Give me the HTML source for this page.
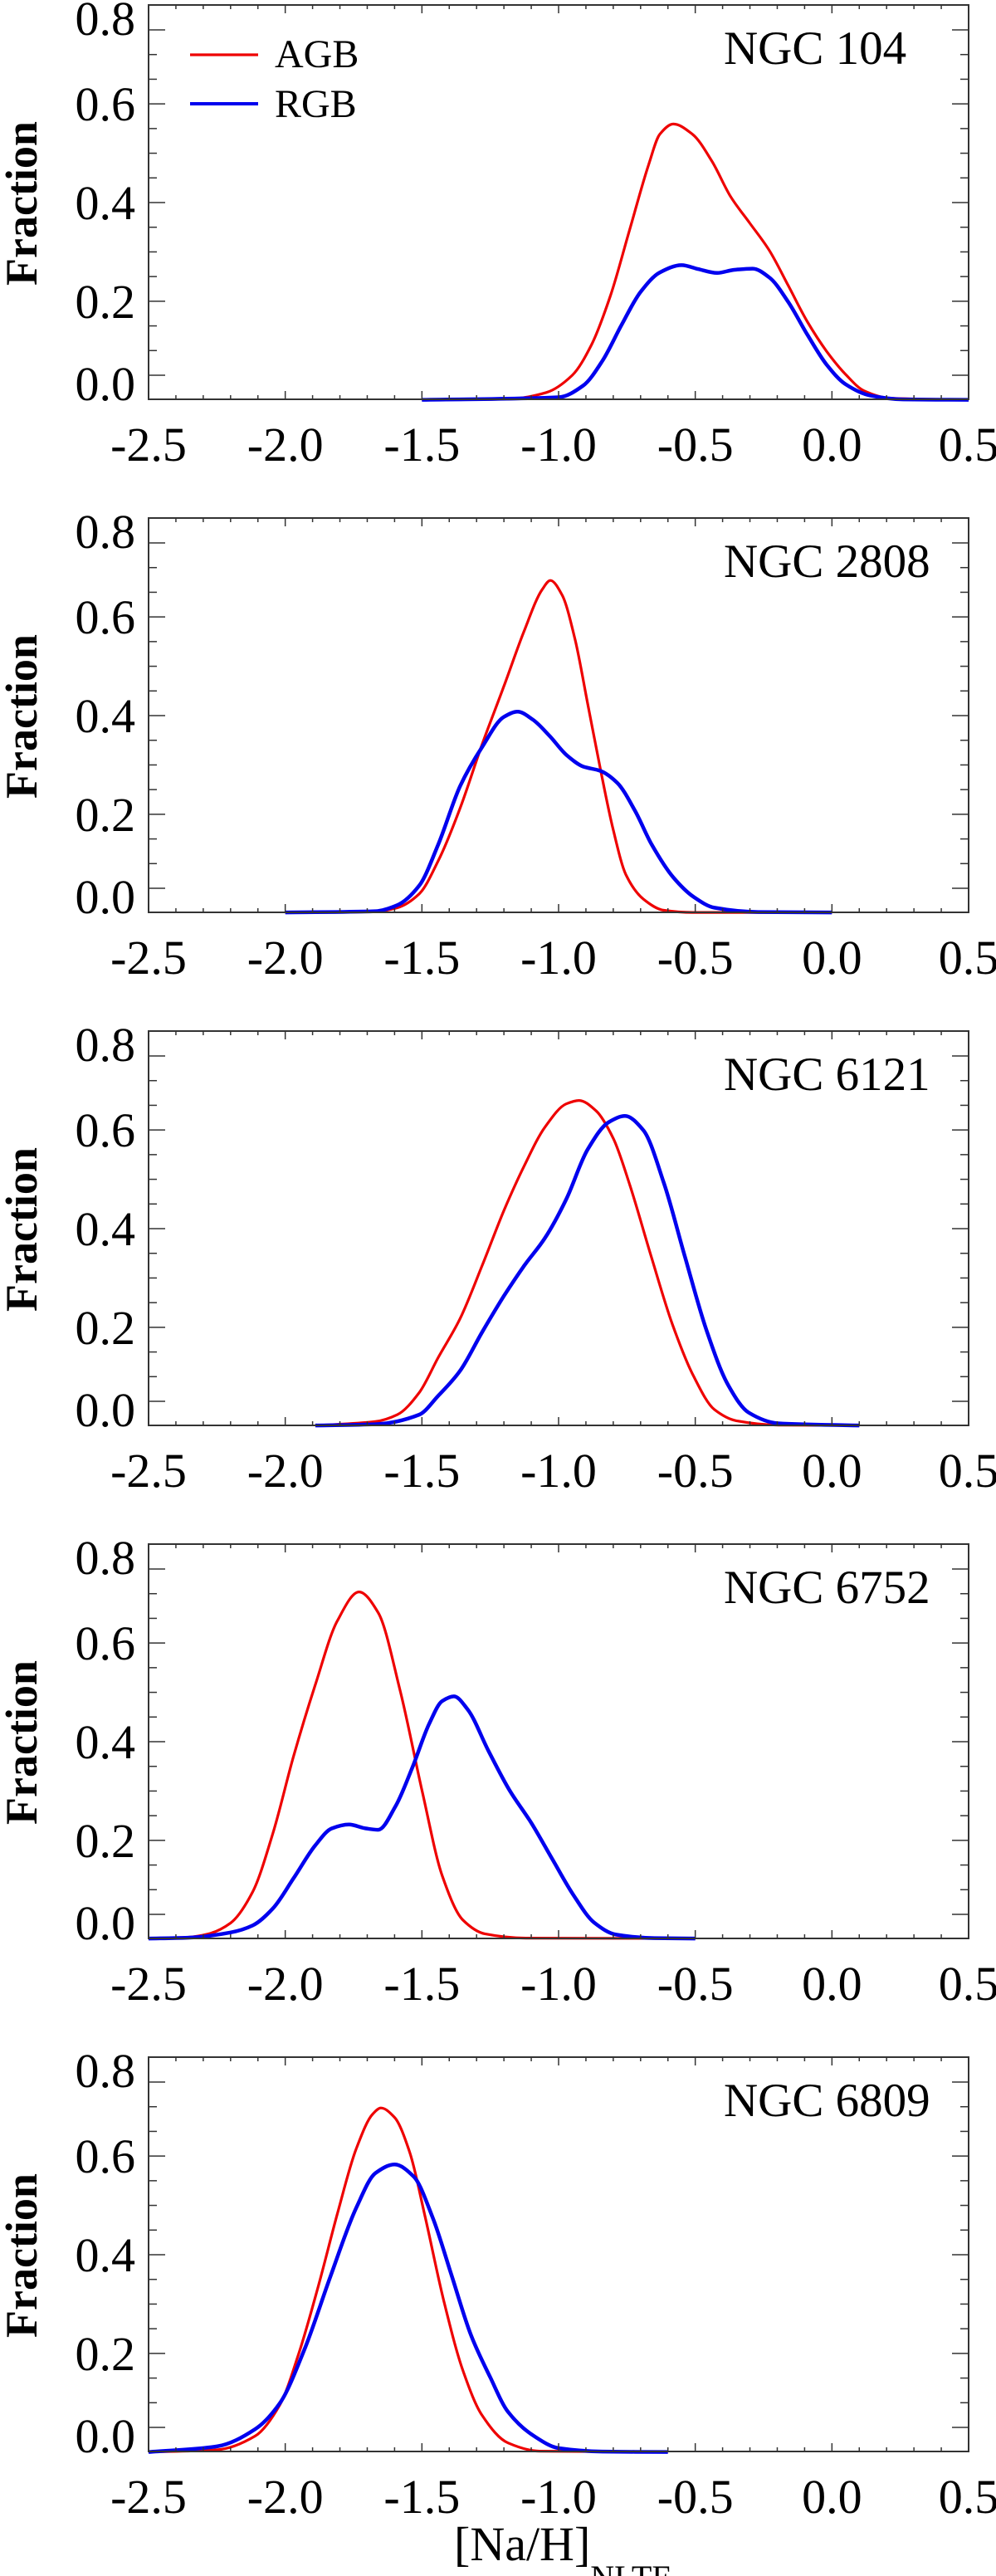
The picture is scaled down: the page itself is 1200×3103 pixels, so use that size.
<!DOCTYPE html>
<html><head><meta charset="utf-8"><title>[Na/H] NLTE distributions</title>
<style>
html,body{margin:0;padding:0;background:#fff;}
svg{display:block;font-family:"Liberation Serif","Times New Roman",serif;}
</style></head>
<body>
<svg id="chart" width="1200" height="3103" viewBox="0 0 1200 3103" xmlns="http://www.w3.org/2000/svg">
<text x="547" y="3084" font-size="58">[Na/H]<tspan font-size="40" dy="34">NLTE</tspan></text>
</svg>
<script>
// ----- data -----
const panelNames = ["NGC 104", "NGC 2808", "NGC 6121", "NGC 6752", "NGC 6809"];
const xTickValues = [-2.5, -2.0, -1.5, -1.0, -0.5, 0.0, 0.5];
const xTickLabels = ["-2.5", "-2.0", "-1.5", "-1.0", "-0.5", "0.0", "0.5"];
const yTickLabels = ["0.0", "0.2", "0.4", "0.6", "0.8"];
const yTickIndex = [0, 3, 7, 11, 14];

const ngc104AgbX = [-1.5,-1.18,-1.045,-0.95,-0.88,-0.81,-0.74,-0.67,-0.63,-0.58,-0.51,-0.44,-0.37,-0.30,-0.23,-0.16,-0.09,-0.02,0.05,0.117,0.21,0.5];
const ngc104AgbY = [-0.057,-0.055,-0.04,0.0,0.07,0.185,0.337,0.489,0.558,0.582,0.558,0.497,0.413,0.352,0.29,0.208,0.124,0.056,0.002,-0.036,-0.053,-0.057];
const ngc104RgbX = [-1.5,-1.0,-0.91,-0.84,-0.77,-0.70,-0.63,-0.55,-0.49,-0.42,-0.36,-0.29,-0.23,-0.16,-0.09,-0.02,0.05,0.14,0.26,0.5];
const ngc104RgbY = [-0.057,-0.051,-0.024,0.033,0.116,0.193,0.238,0.255,0.246,0.237,0.244,0.247,0.227,0.17,0.094,0.025,-0.021,-0.047,-0.056,-0.057];

const ngc2808AgbX = [-2.0,-1.67,-1.59,-1.51,-1.44,-1.36,-1.28,-1.20,-1.126,-1.06,-1.03,-0.987,-0.94,-0.894,-0.847,-0.80,-0.754,-0.69,-0.615,-0.51,0.0];
const ngc2808AgbY = [-0.056,-0.054,-0.045,-0.013,0.064,0.186,0.333,0.468,0.596,0.692,0.713,0.679,0.577,0.429,0.276,0.135,0.032,-0.025,-0.051,-0.056,-0.056];
const ngc2808RgbX = [-2.0,-1.67,-1.59,-1.51,-1.44,-1.36,-1.28,-1.20,-1.15,-1.095,-1.033,-0.97,-0.91,-0.847,-0.785,-0.72,-0.66,-0.58,-0.506,-0.43,-0.27,0.0];
const ngc2808RgbY = [-0.056,-0.053,-0.039,0.006,0.102,0.237,0.327,0.397,0.409,0.391,0.353,0.308,0.282,0.272,0.244,0.179,0.102,0.025,-0.02,-0.045,-0.055,-0.056];

const ngc6121AgbX = [-1.89,-1.67,-1.59,-1.51,-1.44,-1.36,-1.28,-1.20,-1.126,-1.05,-0.972,-0.925,-0.863,-0.80,-0.739,-0.66,-0.584,-0.506,-0.43,-0.35,-0.197,0.1];
const ngc6121AgbY = [-0.056,-0.047,-0.031,0.02,0.102,0.192,0.314,0.442,0.545,0.635,0.689,0.697,0.673,0.609,0.5,0.333,0.179,0.058,-0.019,-0.045,-0.055,-0.056];
const ngc6121RgbX = [-1.89,-1.67,-1.51,-1.44,-1.36,-1.28,-1.20,-1.126,-1.05,-0.972,-0.894,-0.816,-0.757,-0.69,-0.615,-0.537,-0.46,-0.38,-0.305,-0.197,0.1];
const ngc6121RgbY = [-0.056,-0.053,-0.031,0.013,0.071,0.16,0.244,0.314,0.378,0.468,0.583,0.647,0.661,0.628,0.506,0.333,0.167,0.038,-0.026,-0.051,-0.056];

const ngc6752AgbX = [-2.5,-2.356,-2.28,-2.2,-2.12,-2.046,-1.97,-1.89,-1.81,-1.73,-1.66,-1.58,-1.50,-1.426,-1.35,-1.27,-1.12,-0.5];
const ngc6752AgbY = [-0.056,-0.053,-0.045,-0.02,0.051,0.186,0.365,0.532,0.679,0.747,0.699,0.519,0.288,0.09,-0.013,-0.045,-0.055,-0.056];
const ngc6752RgbX = [-2.5,-2.356,-2.2,-2.12,-2.046,-1.97,-1.89,-1.83,-1.767,-1.705,-1.66,-1.597,-1.535,-1.473,-1.426,-1.383,-1.333,-1.256,-1.18,-1.10,-1.023,-0.946,-0.87,-0.79,-0.65,-0.5];
const ngc6752RgbY = [-0.056,-0.054,-0.042,-0.026,0.013,0.083,0.16,0.199,0.208,0.199,0.196,0.25,0.34,0.442,0.494,0.505,0.475,0.378,0.288,0.212,0.128,0.045,-0.019,-0.047,-0.055,-0.056];

const ngc6809AgbX = [-2.5,-2.25,-2.11,-2.02,-1.95,-1.88,-1.81,-1.74,-1.68,-1.65,-1.60,-1.545,-1.49,-1.42,-1.35,-1.28,-1.185,-1.07,-0.6];
const ngc6809AgbY = [-0.057,-0.052,-0.02,0.052,0.172,0.325,0.493,0.646,0.726,0.740,0.718,0.638,0.493,0.293,0.132,0.028,-0.036,-0.055,-0.057];
const ngc6809RgbX = [-2.5,-2.25,-2.11,-2.02,-1.93,-1.835,-1.74,-1.67,-1.60,-1.53,-1.46,-1.39,-1.32,-1.25,-1.185,-1.09,-1.0,-0.84,-0.6];
const ngc6809RgbY = [-0.057,-0.044,-0.004,0.056,0.18,0.349,0.509,0.589,0.609,0.581,0.485,0.349,0.213,0.116,0.036,-0.02,-0.048,-0.056,-0.057];

const agbXs = [ngc104AgbX, ngc2808AgbX, ngc6121AgbX, ngc6752AgbX, ngc6809AgbX];
const agbYs = [ngc104AgbY, ngc2808AgbY, ngc6121AgbY, ngc6752AgbY, ngc6809AgbY];
const rgbXs = [ngc104RgbX, ngc2808RgbX, ngc6121RgbX, ngc6752RgbX, ngc6809RgbX];
const rgbYs = [ngc104RgbY, ngc2808RgbY, ngc6121RgbY, ngc6752RgbY, ngc6809RgbY];

// ----- layout -----
const NS = "http://www.w3.org/2000/svg";
const svg = document.getElementById("chart");
const PL = 179, PR = 1167, PANEL_TOP0 = 6, PANEL_H = 475, PANEL_STEP = 618;
const Y0_OFF = 446, Y_PER = 520;
const X_MIN = -2.5, X_MAX = 0.5;
const Y_LABEL_SHIFT = [10, 0, 0, 0, -14];
function xPos(v){ return PL + (v - X_MIN) * (PR - PL) / (X_MAX - X_MIN); }
function yPos(p, v){ return PANEL_TOP0 + p*PANEL_STEP + Y0_OFF - v*Y_PER; }
function mk(tag, attrs, parent){
  const e = document.createElementNS(NS, tag);
  for (const k in attrs) e.setAttribute(k, attrs[k]);
  (parent||svg).appendChild(e);
  return e;
}
function smoothPath(pts){
  const n = pts.length, dx = [], s = [], m = [];
  for (let i = 0; i < n-1; i++){ dx[i] = pts[i+1][0]-pts[i][0]; s[i] = (pts[i+1][1]-pts[i][1])/dx[i]; }
  m[0] = s[0]; m[n-1] = s[n-2];
  for (let i = 1; i < n-1; i++){
    if (s[i-1]*s[i] <= 0) m[i] = 0;
    else { const w1 = 2*dx[i]+dx[i-1], w2 = dx[i]+2*dx[i-1]; m[i] = (w1+w2)/(w1/s[i-1]+w2/s[i]); }
  }
  let d = "M" + pts[0][0].toFixed(1) + "," + pts[0][1].toFixed(1);
  for (let i = 0; i < n-1; i++){
    const h = dx[i]/3;
    d += " C" + (pts[i][0]+h).toFixed(1) + "," + (pts[i][1]+m[i]*h).toFixed(1) + " " +
         (pts[i+1][0]-h).toFixed(1) + "," + (pts[i+1][1]-m[i+1]*h).toFixed(1) + " " +
         pts[i+1][0].toFixed(1) + "," + pts[i+1][1].toFixed(1);
  }
  return d;
}

for (let p = 0; p < panelNames.length; p++){
  const top = PANEL_TOP0 + p*PANEL_STEP, bottom = top + PANEL_H;
  const g = mk("g", {});
  
  

  const agbPts = agbXs[p].map((x,i)=>[xPos(x), yPos(p, agbYs[p][i])]);
  const rgbPts = rgbXs[p].map((x,i)=>[xPos(x), yPos(p, rgbYs[p][i])]);
  const agb = mk("path", {d: smoothPath(agbPts), fill:"none", stroke:"#ee0000", "stroke-width":"3.2", "stroke-linejoin":"round"}, g);
  
  
  const rgb = mk("path", {d: smoothPath(rgbPts), fill:"none", stroke:"#0000ee", "stroke-width":"4.5", "stroke-linejoin":"round"}, g);
  
  

  const fr = mk("rect", {x:PL, y:top, width:PR-PL, height:PANEL_H, fill:"none", stroke:"#333", "stroke-width":"2"}, g);
  
  

  for (let k = 0; k <= 30; k++){
    const v = X_MIN + k*0.1, x = xPos(v), len = (k%5===0) ? 10 : 5;
    mk("line", {x1:x, y1:bottom, x2:x, y2:bottom-len, stroke:"#333", "stroke-width":"1.5"}, g);
    mk("line", {x1:x, y1:top, x2:x, y2:top+len, stroke:"#333", "stroke-width":"1.5"}, g);
  }
  for (let i = 0; i < xTickValues.length; i++){
    const t = mk("text", {x:xPos(xTickValues[i]), y:bottom+74, "font-size":"58", "text-anchor":"middle"}, g);
    
    
    t.textContent = xTickLabels[i];
  }
  const yZero = top + Y0_OFF, step = 416/14;
  for (let k = 0; k <= 14; k++){
    const y = yZero - k*step, len = yTickIndex.includes(k) ? 20 : 10;
    mk("line", {x1:PL, y1:y, x2:PL+len, y2:y, stroke:"#333", "stroke-width":"1.5"}, g);
    mk("line", {x1:PR, y1:y, x2:PR-len, y2:y, stroke:"#333", "stroke-width":"1.5"}, g);
  }
  for (let i = 0; i < yTickLabels.length; i++){
    const t = mk("text", {x:163, y:yZero - yTickIndex[i]*step + 20 + Y_LABEL_SHIFT[i], "font-size":"58", "text-anchor":"end"}, g);
    
    
    t.textContent = yTickLabels[i];
  }
  const yt = mk("text", {x:0, y:0, "font-size":"54", "font-weight":"bold", "text-anchor":"middle", transform:"translate(44," + (top+239) + ") rotate(-90)"}, g);
  
  
  yt.textContent = "Fraction";
  const nm = mk("text", {x:872, y:top+71, "font-size":"57"}, g);
  
  
  nm.textContent = panelNames[p];

  if (p === 0){
    const lg = mk("g", {}, g);
    
    
    const l1 = mk("line", {x1:229, y1:66, x2:311, y2:66, stroke:"#ee0000", "stroke-width":"3.2"}, lg);
    
    
    const t1 = mk("text", {x:331, y:81, "font-size":"48"}, lg);
    
    
    t1.textContent = "AGB";
    const l2 = mk("line", {x1:229, y1:125, x2:311, y2:125, stroke:"#0000ee", "stroke-width":"4"}, lg);
    
    
    const t2 = mk("text", {x:331, y:141, "font-size":"48"}, lg);
    
    
    t2.textContent = "RGB";
  }
}
</script>
</body></html>
